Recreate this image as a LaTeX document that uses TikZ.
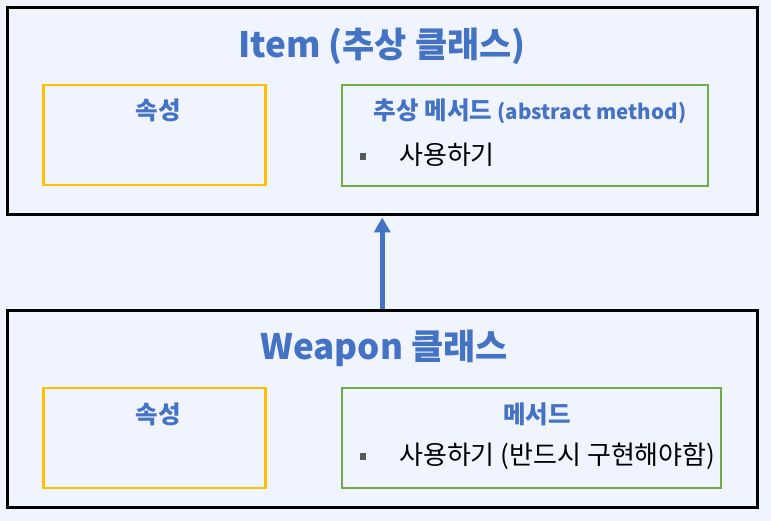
\documentclass[tikz,border=0pt]{standalone}
\usepackage{fontspec}
\usetikzlibrary{arrows.meta,positioning}
\setmainfont{Noto Sans CJK KR}
\definecolor{ink}{HTML}{000000}
\definecolor{blue}{HTML}{4472C4}
\definecolor{bgfill}{HTML}{F0F4FF}
\definecolor{amber}{HTML}{FFC000}
\definecolor{green}{HTML}{70AD47}
\definecolor{gray}{HTML}{595959}
\tikzset{
  classbox/.style={draw=ink, line width=3pt, fill=bgfill, inner sep=0pt},
  attrbox/.style={draw=amber, line width=2.2pt, inner sep=0pt},
  methbox/.style={draw=green, line width=2.2pt, inner sep=0pt},
  title/.style={font=\fontsize{35}{40}\selectfont\bfseries, text=blue, inner sep=0pt, anchor=base},
  heading/.style={font=\fontsize{24.5}{28}\selectfont\bfseries, text=blue, inner sep=0pt, anchor=base},
  entry/.style={font=\fontsize{26}{30}\selectfont, text=black, inner sep=0pt, anchor=base west},
  bulletmark/.style={fill=gray, minimum size=6.5pt, inner sep=0pt},
  arrow/.style={-{Triangle[length=15pt,width=16pt]}, line width=5pt, draw=blue, shorten >=1.5pt},
}
\begin{document}
\begin{tikzpicture}[x=1pt,y=-1pt]
\fill[bgfill] (0,0) rectangle (771,521);
\useasboundingbox (0,0) rectangle (771,521);
% abstract class
\node[classbox, minimum width=749.5pt, minimum height=207pt] (item) at (382.25,111) {};
\node[title] (itemtitle) at (382,57.5) {Item (추상 클래스)};
\node[attrbox, minimum width=222pt, minimum height=100pt] (itemattr) at (154.5,135) {};
\node[heading] (itemattrlabel) at (158.5,120) {속성};
\node[methbox, minimum width=365.5pt, minimum height=101pt] (itemmeth) at (525,135.5) {};
\node[heading] (itemmethlabel) at (530,120) {추상 메서드 {\fontsize{20.5}{24}\selectfont(abstract method)}};
\node[bulletmark] (itembullet) at (363,156.5) {};
\node[entry] (itemuse) at (399,164.5) {사용하기};
% concrete class
\node[classbox, minimum width=749.5pt, minimum height=196.5pt] (weapon) at (382.25,408.75) {};
\node[title] (weapontitle) at (384,359) {Weapon 클래스};
\node[attrbox, minimum width=222pt, minimum height=100pt] (weaponattr) at (154.5,438) {};
\node[heading] (weaponattrlabel) at (158.5,423) {속성};
\node[methbox, minimum width=379pt, minimum height=100pt] (weaponmeth) at (531.5,438) {};
\node[heading] (weaponmethlabel) at (537,423) {메서드};
\node[bulletmark] (weaponbullet) at (363,456.5) {};
\node[entry] (weaponuse) at (399,464.5) {사용하기 (반드시 구현해야함)};
\draw[arrow] (weapon.north) -- (item.south);
\end{tikzpicture}
\end{document}
